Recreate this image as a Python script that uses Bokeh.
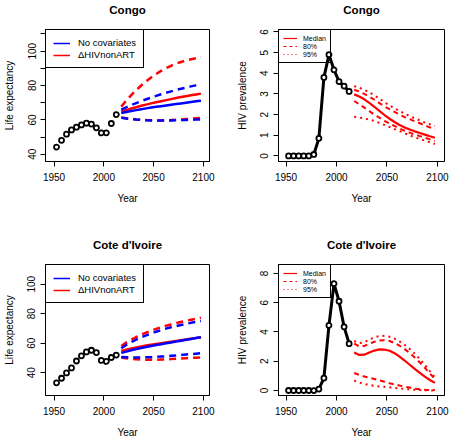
from bokeh.plotting import figure
from bokeh.models import Range1d, FixedTicker, Legend, LegendItem, LinearAxis
from bokeh.layouts import gridplot
from bokeh.embed import file_html
from bokeh.resources import INLINE

# ---------------- data ----------------
obs_years = [1952.5, 1957.5, 1962.5, 1967.5, 1972.5, 1977.5, 1982.5,
             1987.5, 1992.5, 1997.5, 2002.5, 2007.5, 2012.5]
proj_years = [2017.5, 2022.5, 2027.5, 2032.5, 2037.5, 2042.5, 2047.5, 2052.5,
              2057.5, 2062.5, 2067.5, 2072.5, 2077.5, 2082.5, 2087.5, 2092.5, 2097.5]

# Congo - life expectancy
cg_le_obs = [44.2, 48.1, 51.7, 54.2, 55.8, 57.1, 58.1, 57.6, 55.4, 52.4, 52.5, 57.9, 63.1]
cg_red_med = [64.8, 65.7, 66.6, 67.4, 68.2, 68.9, 69.6, 70.3, 70.9, 71.5, 72.1, 72.7, 73.3, 73.8, 74.3, 74.8, 75.3]
cg_blue_med = [64.0, 64.6, 65.2, 65.7, 66.2, 66.7, 67.2, 67.6, 68.0, 68.4, 68.8, 69.2, 69.6, 70.0, 70.4, 70.8, 71.2]
cg_red_up = [67.7, 71.2, 74.4, 77.3, 80.0, 82.5, 84.7, 86.7, 88.5, 90.1, 91.5, 92.7, 93.7, 94.6, 95.3, 95.9, 96.4]
cg_blue_up = [66.0, 67.3, 68.6, 69.8, 70.9, 72.0, 73.0, 74.0, 74.9, 75.8, 76.6, 77.4, 78.1, 78.8, 79.5, 80.1, 80.7]
cg_red_lo = [61.4, 61.0, 60.6, 60.3, 60.1, 59.9, 59.8, 59.7, 59.7, 59.8, 59.9, 60.1, 60.3, 60.5, 60.7, 60.9, 61.1]
cg_blue_lo = [61.2, 60.8, 60.5, 60.2, 60.0, 59.8, 59.7, 59.6, 59.6, 59.6, 59.7, 59.8, 59.9, 60.0, 60.1, 60.2, 60.3]

# Cote d'Ivoire - life expectancy
ci_le_obs = [33.1, 36.2, 39.8, 43.2, 47.9, 51.4, 54.1, 55.2, 53.6, 48.3, 47.6, 50.3, 51.9]
ci_red_med = [54.8, 55.6, 56.4, 57.1, 57.8, 58.4, 59.0, 59.5, 60.0, 60.5, 61.0, 61.5, 62.0, 62.5, 63.0, 63.5, 64.1]
ci_blue_med = [53.4, 54.3, 55.2, 56.0, 56.7, 57.4, 58.1, 58.7, 59.3, 59.9, 60.5, 61.1, 61.7, 62.3, 62.9, 63.5, 64.0]
ci_red_up = [58.1, 60.4, 62.4, 64.2, 65.8, 67.2, 68.5, 69.7, 70.8, 71.8, 72.7, 73.6, 74.4, 75.2, 75.9, 76.6, 77.3]
ci_blue_up = [56.6, 58.8, 60.7, 62.4, 63.9, 65.3, 66.6, 67.8, 68.9, 69.9, 70.8, 71.6, 72.4, 73.1, 73.8, 74.4, 75.0]
ci_red_lo = [50.3, 49.8, 49.4, 49.1, 48.9, 48.8, 48.8, 48.8, 48.9, 49.0, 49.2, 49.4, 49.6, 49.8, 50.0, 50.2, 50.4]
ci_blue_lo = [50.7, 50.5, 50.3, 50.3, 50.3, 50.4, 50.5, 50.7, 50.9, 51.1, 51.4, 51.7, 52.0, 52.3, 52.6, 52.9, 53.2]

# Congo - HIV prevalence
cg_hiv_obs = [0, 0, 0, 0, 0, 0.07, 0.85, 3.8, 4.9, 4.17, 3.6, 3.38, 3.12]
cg_hiv_med = [2.98, 2.88, 2.74, 2.57, 2.38, 2.18, 1.98, 1.80, 1.64, 1.50, 1.38, 1.28, 1.19, 1.11, 1.03, 0.95, 0.88]
cg_hiv_u80 = [3.2, 3.12, 3.0, 2.87, 2.72, 2.56, 2.4, 2.26, 2.13, 2.0, 1.88, 1.78, 1.68, 1.58, 1.48, 1.38, 1.28]
cg_hiv_u95 = [3.38, 3.3, 3.2, 3.08, 2.93, 2.77, 2.6, 2.45, 2.3, 2.17, 2.05, 1.93, 1.82, 1.72, 1.62, 1.53, 1.45]
cg_hiv_l80 = [2.66, 2.5, 2.34, 2.17, 2.0, 1.85, 1.7, 1.57, 1.45, 1.33, 1.22, 1.13, 1.04, 0.96, 0.88, 0.80, 0.72]
cg_hiv_l95 = [1.9, 1.86, 1.81, 1.76, 1.7, 1.6, 1.5, 1.4, 1.3, 1.2, 1.1, 1.0, 0.9, 0.82, 0.74, 0.66, 0.58]

# Cote d'Ivoire - HIV prevalence
ci_hiv_obs = [0, 0, 0, 0, 0, 0, 0.1, 0.85, 4.45, 7.3, 6.1, 4.35, 3.2]
ci_hiv_med = [2.6, 2.43, 2.45, 2.6, 2.73, 2.81, 2.8, 2.72, 2.55, 2.32, 2.05, 1.76, 1.48, 1.2, 0.95, 0.72, 0.52]
ci_hiv_u80 = [3.2, 3.02, 3.05, 3.2, 3.33, 3.42, 3.44, 3.38, 3.25, 3.06, 2.83, 2.56, 2.26, 1.92, 1.55, 1.16, 0.78]
ci_hiv_u95 = [3.38, 3.24, 3.3, 3.48, 3.63, 3.72, 3.74, 3.68, 3.55, 3.36, 3.12, 2.84, 2.52, 2.15, 1.75, 1.32, 0.9]
ci_hiv_l80 = [1.2, 1.07, 0.96, 0.87, 0.79, 0.7, 0.6, 0.5, 0.42, 0.34, 0.27, 0.2, 0.13, 0.08, 0.05, 0.03, 0.03]
ci_hiv_l95 = [0.68, 0.55, 0.45, 0.38, 0.32, 0.28, 0.25, 0.22, 0.18, 0.14, 0.11, 0.08, 0.05, 0.03, 0.02, 0.01, 0.0]

x_ticks = [1950, 2000, 2050, 2100]
legend_le = ["No covariates", "\u0394HIVnonART"]
legend_hiv = ["Median", "80%", "95%"]

FONT = "Liberation Sans"
RED = "#FF0000"
BLUE = "#0000FF"

W_LEFT, W_RIGHT = 232, 218
H_TOP, H_BOT = 235, 205
# dummy points far outside the visible range (only used to draw legend samples)
HIDDEN_X = [1800, 1801]
HIDDEN_Y = [-1000, -1000]


def base_fig(title, w, h, left, right, top, bottom, xr, yr, yticks, ylabel, overrides=None):
    p = figure(width=w, height=h, x_range=Range1d(*xr), y_range=Range1d(*yr),
               output_backend="svg", toolbar_location=None,
               min_border_left=left, min_border_right=right,
               min_border_top=top, min_border_bottom=bottom)
    p.xgrid.visible = False
    p.ygrid.visible = False
    p.outline_line_color = "black"
    p.outline_line_alpha = 1
    p.outline_line_width = 1
    p.background_fill_color = "white"
    p.border_fill_color = "white"
    xax = p.below[0]
    yax = p.left[0]
    for ax in (xax, yax):
        ax.axis_line_color = "black"
        ax.major_tick_line_color = "black"
        ax.major_tick_out = 5
        ax.major_tick_in = 0
        ax.minor_tick_line_color = None
        ax.major_label_text_font = FONT
        ax.major_label_text_font_size = "10px"
        ax.major_label_text_color = "black"
        ax.axis_label_text_font = FONT
        ax.axis_label_text_font_size = "10px"
        ax.axis_label_text_font_style = "normal"
        ax.axis_label_text_color = "black"
    xax.ticker = FixedTicker(ticks=x_ticks)
    xax.axis_label = "Year"
    xax.major_label_standoff = 6
    xax.axis_label_standoff = 9
    yax.ticker = FixedTicker(ticks=yticks)
    if overrides:
        yax.major_label_overrides = overrides
    yax.axis_label = ylabel
    yax.major_label_orientation = "vertical"
    yax.major_label_standoff = 5
    yax.axis_label_standoff = 10
    # panel title: label of a tick-less axis placed above the plot region
    tax = LinearAxis(ticker=FixedTicker(ticks=[]), axis_label=title,
                     axis_line_color=None, major_tick_line_color=None,
                     minor_tick_line_color=None, major_tick_out=0, major_tick_in=0,
                     major_label_standoff=0, axis_label_standoff=14,
                     axis_label_text_font=FONT, axis_label_text_font_style="bold",
                     axis_label_text_font_size="11.5px", axis_label_text_color="black")
    p.add_layout(tax, "above")
    return p


def le_fig(title, h, top, bottom, yr, yticks, overrides, obs, rm, bm, ru, bu, rl, bl):
    p = base_fig(title, W_LEFT, h, 44, 23, top, bottom, (1941.4, 2106.1), yr, yticks,
                 "Life expectancy", overrides)
    for ys in (ru, rl):
        p.line(proj_years, ys, line_color=RED, line_width=2.5, line_dash="7 5")
    p.line(proj_years, rm, line_color=RED, line_width=2.5)
    for ys in (bu, bl):
        p.line(proj_years, ys, line_color=BLUE, line_width=2.5, line_dash="7 5")
    p.line(proj_years, bm, line_color=BLUE, line_width=2.5)
    p.scatter(obs_years, obs, marker="circle", size=5, fill_color="white",
              line_color="black", line_width=1.8)
    lb = p.line(HIDDEN_X, HIDDEN_Y, line_color=BLUE, line_width=1.5)
    lr = p.line(HIDDEN_X, HIDDEN_Y, line_color=RED, line_width=1.5)
    leg = Legend(items=[LegendItem(label=legend_le[0], renderers=[lb]),
                        LegendItem(label=legend_le[1], renderers=[lr])],
                 location="top_left", margin=0, padding=7, spacing=1,
                 glyph_width=17, glyph_height=10, label_height=10, label_standoff=8,
                 label_text_font=FONT, label_text_font_size="9.5px",
                 label_text_color="black",
                 border_line_color="black", border_line_width=1, border_line_alpha=1,
                 background_fill_alpha=0)
    p.add_layout(leg)
    return p


def hiv_fig(title, h, top, bottom, yr, yticks, obs, med, u80, u95, l80, l95):
    p = base_fig(title, W_RIGHT, h, 46, 6, top, bottom, (1942.5, 2107.0), yr, yticks,
                 "HIV prevalence")
    p.line(obs_years, obs, line_color="black", line_width=3)
    p.scatter(obs_years, obs, marker="circle", size=5, fill_color="white",
              line_color="black", line_width=1.8)
    for ys in (u95, l95):
        p.line(proj_years, ys, line_color=RED, line_width=2, line_dash="2 4")
    for ys in (u80, l80):
        p.line(proj_years, ys, line_color=RED, line_width=2, line_dash="5 4")
    p.line(proj_years, med, line_color=RED, line_width=2.2)
    r1 = p.line(HIDDEN_X, HIDDEN_Y, line_color=RED, line_width=1.2)
    r2 = p.line(HIDDEN_X, HIDDEN_Y, line_color=RED, line_width=1.2, line_dash="3 3")
    r3 = p.line(HIDDEN_X, HIDDEN_Y, line_color=RED, line_width=1.0, line_dash="1 3")
    leg = Legend(items=[LegendItem(label=legend_hiv[0], renderers=[r1]),
                        LegendItem(label=legend_hiv[1], renderers=[r2]),
                        LegendItem(label=legend_hiv[2], renderers=[r3])],
                 location="top_left", margin=0, padding=4, spacing=0,
                 glyph_width=14, glyph_height=8, label_height=8, label_standoff=6,
                 label_text_font=FONT, label_text_font_size="7px",
                 label_text_color="black",
                 border_line_color="black", border_line_width=1, border_line_alpha=1,
                 background_fill_alpha=0)
    p.add_layout(leg)
    return p


p1 = le_fig("Congo", H_TOP, 28, 74, (35.8, 112.6), [40, 50, 60, 70, 80, 90, 100, 110],
            {50: "", 70: "", 90: "", 110: ""},
            cg_le_obs, cg_red_med, cg_blue_med, cg_red_up, cg_blue_up, cg_red_lo, cg_blue_lo)
p2 = hiv_fig("Congo", H_TOP, 28, 74, (-0.27, 6.12), [0, 1, 2, 3, 4, 5, 6],
             cg_hiv_obs, cg_hiv_med, cg_hiv_u80, cg_hiv_u95, cg_hiv_l80, cg_hiv_l95)
p3 = le_fig("Cote d'Ivoire", H_BOT, 28, 45, (24.5, 113.4), [40, 60, 80, 100], None,
            ci_le_obs, ci_red_med, ci_blue_med, ci_red_up, ci_blue_up, ci_red_lo, ci_blue_lo)
p4 = hiv_fig("Cote d'Ivoire", H_BOT, 28, 45, (-0.34, 8.61), [0, 2, 4, 6, 8],
             ci_hiv_obs, ci_hiv_med, ci_hiv_u80, ci_hiv_u95, ci_hiv_l80, ci_hiv_l95)

grid = gridplot([[p1, p2], [p3, p4]], toolbar_location=None)

open("out.html", "w").write(file_html(grid, INLINE))
